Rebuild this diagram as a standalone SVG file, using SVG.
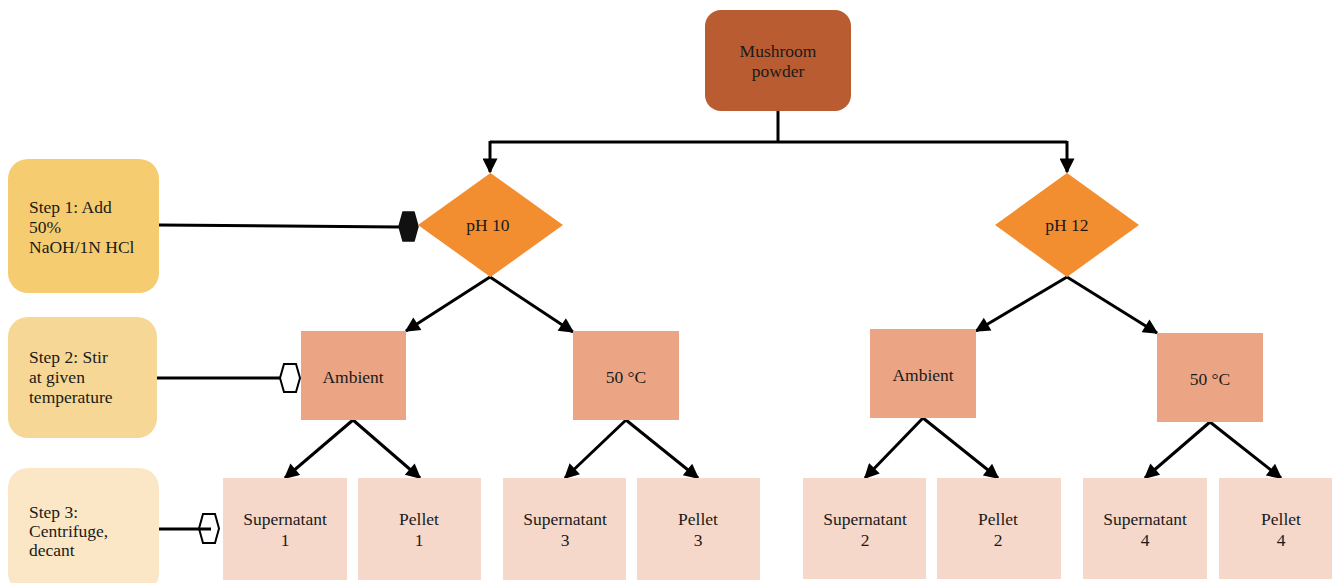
<svg xmlns="http://www.w3.org/2000/svg" width="1332" height="583" viewBox="0 0 1332 583">
<defs>
<marker id="ah" viewBox="0 0 10 10" refX="9" refY="5" markerWidth="5.5" markerHeight="5" markerUnits="strokeWidth" orient="auto">
<path d="M0,0 L10,5 L0,10 z" fill="#000"/>
</marker>
</defs>
<style>
.t{font-family:'Liberation Serif','Times New Roman','DejaVu Serif',serif;font-size:17.5px;fill:#1a1a1a}
.c{text-anchor:middle}
.conn{stroke:#000;stroke-width:3;fill:none}
.arr{marker-end:url(#ah)}
.lvl2{fill:#EBA584}
.leaf{fill:#F5D8CA}
.dia{fill:#F28D30}
</style>
<rect width="1332" height="583" fill="#fff"/>

<g id="connectors">
<path class="conn" d="M778,111 V142 M490,142 H1067"/>
<path class="conn arr" d="M490,141 V172"/>
<path class="conn arr" d="M1067,141 V172"/>
<path class="conn arr" d="M490,277 L406,331"/>
<path class="conn arr" d="M490,277 L573,332"/>
<path class="conn arr" d="M1067,277 L976,331"/>
<path class="conn arr" d="M1067,277 L1157,333"/>
<path class="conn arr" d="M353,420 L285,478"/>
<path class="conn arr" d="M353,420 L420,478"/>
<path class="conn arr" d="M626,420 L565,478"/>
<path class="conn arr" d="M626,420 L698,478"/>
<path class="conn arr" d="M923,418 L865,478"/>
<path class="conn arr" d="M923,418 L998,478"/>
<path class="conn arr" d="M1210,422 L1145,478"/>
<path class="conn arr" d="M1210,422 L1281,478"/>
<path class="conn" d="M159,225 L400,227"/>
<path class="conn" d="M157,378 H281"/>
<path class="conn" d="M159,529 H211"/>
<polygon points="403,212 414,212 418,226.5 414,241 403,241 399,226.5" fill="#111" stroke="#111" stroke-width="1.5" stroke-linejoin="round"/>
<polygon points="284,364 296,364 300,378 296,392 284,392 280,378" fill="#fff" stroke="#000" stroke-width="2"/>
<polygon points="203,514 215,514 219,528.5 215,543 203,543 199,528.5" fill="none" stroke="#000" stroke-width="2"/>
</g>

<g font-family="Liberation Serif, Times New Roman, serif" font-size="17.5">
<g id="mushroom">
<rect x="705" y="10" width="146" height="101" rx="16" fill="#B95C31"/>
<text class="t c" x="778" y="57">Mushroom</text>
<text class="t c" x="778" y="77">powder</text>
</g>

<g id="step1">
<rect x="8" y="159" width="151" height="134" rx="20" fill="#F5CC70"/>
<text class="t" x="29" y="213">Step 1: Add</text>
<text class="t" x="29" y="233">50%</text>
<text class="t" x="29" y="253">NaOH/1N HCl</text>
</g>
<g id="step2">
<rect x="8" y="317" width="149" height="121" rx="20" fill="#F6D796"/>
<text class="t" x="29" y="363">Step 2: Stir</text>
<text class="t" x="29" y="383">at given</text>
<text class="t" x="29" y="403">temperature</text>
</g>
<g id="step3">
<rect x="8" y="468" width="151" height="125" rx="20" fill="#FBE7C5"/>
<text class="t" x="29" y="518">Step 3:</text>
<text class="t" x="29" y="537">Centrifuge,</text>
<text class="t" x="29" y="556">decant</text>
</g>

<g id="ph10">
<polygon class="dia" points="490.5,173 563,225 490.5,277 418,225"/>
<text class="t c" x="488" y="231">pH 10</text>
</g>
<g id="ph12">
<polygon class="dia" points="1067,173 1139,225 1067,277 995,225"/>
<text class="t c" x="1067" y="231">pH 12</text>
</g>

<g id="ambient1">
<rect class="lvl2" x="301" y="331" width="105" height="89"/>
<text class="t c" x="353" y="383">Ambient</text>
</g>
<g id="temp1">
<rect class="lvl2" x="573" y="331" width="106" height="89"/>
<text class="t c" x="626" y="383">50 °C</text>
</g>
<g id="ambient2">
<rect class="lvl2" x="870" y="329" width="106" height="89"/>
<text class="t c" x="923" y="381">Ambient</text>
</g>
<g id="temp2">
<rect class="lvl2" x="1157" y="333" width="106" height="89"/>
<text class="t c" x="1210" y="385">50 °C</text>
</g>

<g id="sup1">
<rect class="leaf" x="223" y="478" width="124" height="102"/>
<text class="t c" x="285" y="525">Supernatant</text>
<text class="t c" x="285" y="546">1</text>
</g>
<g id="pel1">
<rect class="leaf" x="358" y="478" width="123" height="102"/>
<text class="t c" x="419" y="525">Pellet</text>
<text class="t c" x="419" y="546">1</text>
</g>
<g id="sup3">
<rect class="leaf" x="503" y="478" width="123" height="102"/>
<text class="t c" x="565" y="525">Supernatant</text>
<text class="t c" x="565" y="546">3</text>
</g>
<g id="pel3">
<rect class="leaf" x="637" y="478" width="123" height="102"/>
<text class="t c" x="698" y="525">Pellet</text>
<text class="t c" x="698" y="546">3</text>
</g>
<g id="sup2">
<rect class="leaf" x="803" y="478" width="123" height="101"/>
<text class="t c" x="865" y="525">Supernatant</text>
<text class="t c" x="865" y="546">2</text>
</g>
<g id="pel2">
<rect class="leaf" x="937" y="478" width="124" height="101"/>
<text class="t c" x="998" y="525">Pellet</text>
<text class="t c" x="998" y="546">2</text>
</g>
<g id="sup4">
<rect class="leaf" x="1083" y="478" width="124" height="101"/>
<text class="t c" x="1145" y="525">Supernatant</text>
<text class="t c" x="1145" y="546">4</text>
</g>
<g id="pel4">
<rect class="leaf" x="1219" y="478" width="124" height="101"/>
<text class="t c" x="1281" y="525">Pellet</text>
<text class="t c" x="1281" y="546">4</text>
</g>
</g>
</svg>
